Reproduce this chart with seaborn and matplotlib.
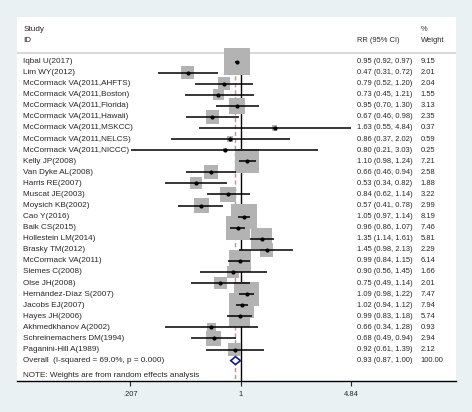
import numpy as np
import pandas as pd
import seaborn as sns
import matplotlib.pyplot as plt
from matplotlib.ticker import NullLocator

sns.set_style('white')
plt.rcParams['font.family'] = ['Liberation Sans', 'DejaVu Sans']

# 研究数据
studies = ["Iqbal U(2017)", "Lim WY(2012)", "McCormack VA(2011,AHFTS)",
           "McCormack VA(2011,Boston)", "McCormack VA(2011,Florida)",
           "McCormack VA(2011,Hawaii)", "McCormack VA(2011,MSKCC)",
           "McCormack VA(2011,NELCS)", "McCormack VA(2011,NICCC)",
           "Kelly JP(2008)", "Van Dyke AL(2008)", "Harris RE(2007)",
           "Muscat JE(2003)", "Moysich KB(2002)", "Cao Y(2016)", "Baik CS(2015)",
           "Hollestein LM(2014)", "Brasky TM(2012)", "McCormack VA(2011)",
           "Siemes C(2008)", "Olse JH(2008)", "Hernández-Díaz S(2007)",
           "Jacobs EJ(2007)", "Hayes JH(2006)", "Akhmedkhanov A(2002)",
           "Schreinemachers DM(1994)", "Paganini-Hill A(1989)"]
rr = [0.95, 0.47, 0.79, 0.73, 0.95, 0.67, 1.63, 0.86, 0.80, 1.10, 0.66, 0.53, 0.84,
      0.57, 1.05, 0.96, 1.35, 1.45, 0.99, 0.90, 0.75, 1.09, 1.02, 0.99, 0.66, 0.68, 0.92]
lo = [0.92, 0.31, 0.52, 0.45, 0.70, 0.46, 0.55, 0.37, 0.21, 0.98, 0.46, 0.34, 0.62,
      0.41, 0.97, 0.86, 1.14, 0.98, 0.84, 0.56, 0.49, 0.98, 0.94, 0.83, 0.34, 0.49, 0.61]
hi = [0.97, 0.72, 1.20, 1.21, 1.30, 0.98, 4.84, 2.02, 3.03, 1.24, 0.94, 0.82, 1.14,
      0.78, 1.14, 1.07, 1.61, 2.13, 1.15, 1.45, 1.14, 1.22, 1.12, 1.18, 1.28, 0.94, 1.39]
weights = [9.15, 2.01, 2.04, 1.55, 3.13, 2.35, 0.37, 0.59, 0.25, 7.21, 2.58, 1.88, 3.22,
           2.99, 8.19, 7.46, 5.81, 2.29, 6.14, 1.66, 2.01, 7.47, 7.94, 5.74, 0.93, 2.94, 2.12]
overall = (0.93, 0.87, 1.00)
overall_label = "Overall  (I-squared = 69.0%, p = 0.000)"
note = "NOTE: Weights are from random effects analysis"
xticks = [0.207, 1, 4.84]
xticklabels = [".207", "1", "4.84"]

df = pd.DataFrame({'study': studies, 'rr': rr, 'lo': lo, 'hi': hi, 'weight': weights})
df['row'] = np.arange(len(df))
n = len(df)

fig = plt.figure(figsize=(4.72, 4.12), dpi=100, facecolor='#e9f1f3')
ax = fig.add_axes([17 / 472, 31 / 412, 439 / 472, 364 / 412])
ax.set_facecolor('white')
ax.set_xscale('log')
ax.set_xlim(0.0411, 21.7)
ax.set_ylim(28.84, -4.02)

fs = 5.85   # 文字列字号
fn = 5.4    # 数字列字号
top = -0.6
# 参考线
ax.vlines(1, top, 28.84, color='black', lw=1.0, zorder=1)
ax.vlines(overall[0], top, 28.84, color='#d08a8a', lw=1.0, ls=(0, (3, 2)), zorder=1)
ax.axhline(-0.74, color='#d6d6d6', lw=1.3, zorder=1)

# 权重方块
sns.scatterplot(data=df, x='rr', y='row', size='weight',
                sizes=(40.3 * min(weights), 40.3 * max(weights)),
                size_norm=(min(weights), max(weights)),
                marker='s', color='#b3b3b3', linewidth=0, legend=False,
                ax=ax, zorder=2)
ax.hlines(df['row'], df['lo'], df['hi'], color='black', lw=1.1, zorder=3)
sns.scatterplot(data=df, x='rr', y='row', color='black', s=9, linewidth=0,
                legend=False, ax=ax, zorder=4)

# 合并效应菱形
est, l, h = overall
yo = n
ax.fill([l, est, h, est], [yo, yo - 0.36, yo, yo + 0.36], facecolor='white',
        edgecolor='#1c1c80', lw=1.2, zorder=5)

# 文本列
tr = ax.get_yaxis_transform()
xs, xc, xw = 0.0144, 0.774, 0.920
ax.text(xs, -2.93, "Study", transform=tr, fontsize=fs, va='center')
ax.text(xs, -1.94, "ID", transform=tr, fontsize=fs, va='center')
ax.text(xc, -1.94, "RR (95% CI)", transform=tr, fontsize=fn, va='center')
ax.text(xw, -2.93, "%", transform=tr, fontsize=fn, va='center')
ax.text(xw, -1.94, "Weight", transform=tr, fontsize=fn, va='center')
for i, r in df.iterrows():
    ax.text(xs, r['row'], r['study'], transform=tr, fontsize=fs, va='center')
    ax.text(xc, r['row'], f"{r['rr']:.2f} ({r['lo']:.2f}, {r['hi']:.2f})",
            transform=tr, fontsize=fn, va='center')
    ax.text(xw, r['row'], f"{r['weight']:.2f}", transform=tr, fontsize=fn, va='center')
ax.text(xs, yo, overall_label, transform=tr, fontsize=fs, va='center')
ax.text(xc, yo, f"{est:.2f} ({l:.2f}, {h:.2f})", transform=tr, fontsize=fn, va='center')
ax.text(xw, yo, "100.00", transform=tr, fontsize=fn, va='center')
ax.text(xs, 28.3, note, transform=tr, fontsize=fs, va='center')

# 坐标轴
for s in ['top', 'right', 'left']:
    ax.spines[s].set_visible(False)
ax.spines['bottom'].set_color('black')
ax.spines['bottom'].set_linewidth(1.0)
ax.set_xticks(xticks)
ax.set_xticklabels(xticklabels, fontsize=fn)
ax.xaxis.set_minor_locator(NullLocator())
ax.tick_params(axis='x', direction='out', length=3.5, width=0.8, pad=4, bottom=True)
ax.set_yticks([])
ax.set_xlabel('')
ax.set_ylabel('')

fig.savefig('out.png', dpi=100, facecolor=fig.get_facecolor())
